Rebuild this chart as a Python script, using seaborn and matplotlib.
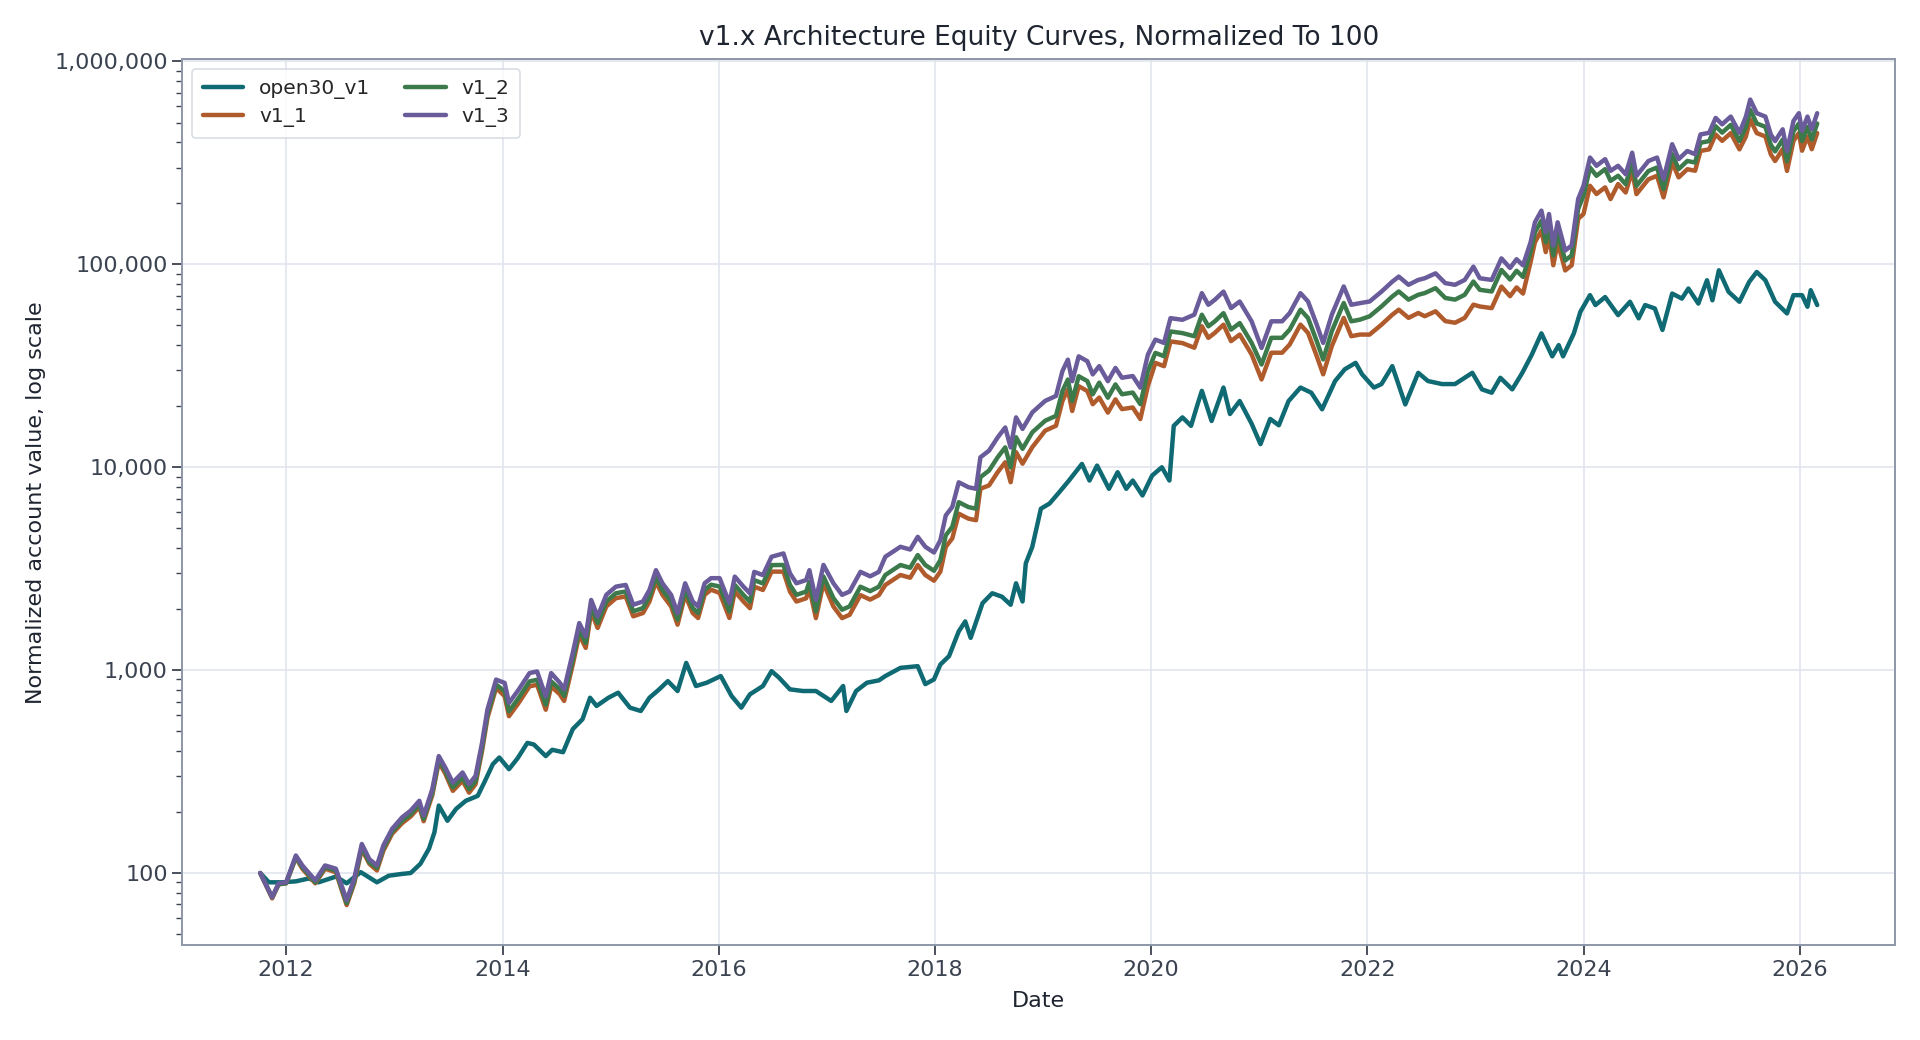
import pandas as pd
import numpy as np
import matplotlib
matplotlib.use('Agg')
import matplotlib.pyplot as plt
import matplotlib.dates as mdates
from matplotlib.ticker import FuncFormatter, LogLocator, NullFormatter
import seaborn as sns

# 값은 그림에서 읽은 추정치 (연도 소수 표기)
v1_years = [
    2011.76, 2011.87, 2011.93, 2012.00, 2012.09, 2012.15, 2012.27, 2012.36, 2012.46, 2012.56,
    2012.63, 2012.70, 2012.77, 2012.84, 2012.90, 2012.98, 2013.07, 2013.15, 2013.23, 2013.27,
    2013.35, 2013.41, 2013.47, 2013.54, 2013.63, 2013.69, 2013.75, 2013.81, 2013.86, 2013.94,
    2014.02, 2014.06, 2014.15, 2014.25, 2014.32, 2014.40, 2014.45, 2014.53, 2014.57, 2014.65,
    2014.71, 2014.77, 2014.82, 2014.88, 2014.96, 2015.05, 2015.14, 2015.21, 2015.30, 2015.36,
    2015.42, 2015.48, 2015.56, 2015.62, 2015.69, 2015.76, 2015.81, 2015.87, 2015.93, 2016.01,
    2016.10, 2016.15, 2016.23, 2016.29, 2016.33, 2016.41, 2016.49, 2016.60, 2016.66, 2016.72,
    2016.81, 2016.84, 2016.90, 2016.97, 2017.06, 2017.14, 2017.21, 2017.31, 2017.40, 2017.48,
    2017.54, 2017.68, 2017.77, 2017.84, 2017.91, 2017.99, 2018.05, 2018.10, 2018.16, 2018.22,
    2018.31, 2018.38, 2018.42, 2018.50, 2018.58, 2018.65, 2018.70, 2018.75, 2018.81, 2018.90,
    2019.02, 2019.12, 2019.18, 2019.23, 2019.27, 2019.33, 2019.41, 2019.46, 2019.52, 2019.60,
    2019.67, 2019.73, 2019.83, 2019.90, 2019.97, 2020.04, 2020.12, 2020.18, 2020.29, 2020.40,
    2020.47, 2020.53, 2020.59, 2020.67, 2020.74, 2020.82, 2020.93, 2021.02, 2021.11, 2021.21,
    2021.28, 2021.38, 2021.45, 2021.53, 2021.59, 2021.67, 2021.78, 2021.85, 2021.93, 2022.02,
    2022.13, 2022.23, 2022.29, 2022.38, 2022.47, 2022.53, 2022.63, 2022.72, 2022.81, 2022.90,
    2022.98, 2023.04, 2023.15, 2023.24, 2023.32, 2023.38, 2023.44, 2023.51, 2023.55, 2023.61,
    2023.65, 2023.68, 2023.72, 2023.76, 2023.83, 2023.89, 2023.95, 2024.00, 2024.06, 2024.12,
    2024.20, 2024.25, 2024.32, 2024.39, 2024.45, 2024.49, 2024.60, 2024.68, 2024.74, 2024.82,
    2024.88, 2024.96, 2025.03, 2025.08, 2025.16, 2025.22, 2025.28, 2025.36, 2025.44, 2025.50,
    2025.54, 2025.60, 2025.68, 2025.73, 2025.77, 2025.84, 2025.88, 2025.94, 2025.99, 2026.02,
    2026.07, 2026.11, 2026.16,
]

v1_3 = [
    100, 76, 89, 90, 122, 109, 92, 109, 105, 73.5,
    94, 139, 117, 109, 137, 165, 188, 203, 227, 192,
    259, 377, 331, 279, 313, 274, 301, 438, 639, 898,
    865, 689, 802, 967, 985, 742, 967, 867, 804, 1216,
    1706, 1468, 2218, 1840, 2350, 2580, 2630, 2100, 2180, 2485,
    3110, 2680, 2350, 1910, 2680, 2180, 2060, 2680, 2840, 2840,
    2140, 2890, 2580, 2390, 3050, 2940, 3620, 3760, 3000, 2680,
    2780, 3110, 2220, 3300, 2680, 2350, 2440, 3050, 2900, 3050,
    3620, 4055, 3930, 4540, 4055, 3800, 4370, 5790, 6370, 8430,
    7970, 7830, 11190, 12070, 14030, 15700, 12520, 17610, 15450, 18630,
    21240, 22460, 29800, 33910, 26560, 35200, 33310, 28690, 31500, 26560,
    30870, 27620, 28150, 24680, 35900, 42570, 41000, 54300, 53300, 56500,
    72100, 63200, 66900, 73400, 60900, 65600, 52400, 38700, 52400, 52400,
    57500, 72100, 65600, 50500, 41000, 56500, 77800, 63200, 64400, 65600,
    73400, 82200, 87000, 79300, 83800, 85400, 90300, 80800, 79300, 83800,
    97400, 85400, 83800, 107000, 96000, 106000, 98900, 128700, 161200, 184000,
    144000, 177000, 124000, 161200, 117000, 124000, 210000, 244000, 336000, 306000,
    330000, 289000, 306000, 278000, 355000, 273000, 323000, 336000, 263000, 391000,
    330000, 362000, 349000, 437000, 445000, 527000, 490000, 535000, 445000, 535000,
    649000, 556000, 535000, 437000, 405000, 463000, 362000, 509000, 556000, 455000,
    535000, 463000, 556000,
]

v1_2 = [
    100, 76, 88, 89, 120, 107, 90, 107, 103, 71,
    91, 135, 113, 106, 133, 160, 181, 195, 219, 185,
    249, 363, 319, 264, 296, 259, 284, 414, 604, 849,
    787, 627, 730, 880, 896, 675, 880, 805, 746, 1128,
    1583, 1362, 2058, 1708, 2181, 2394, 2441, 1949, 2023, 2306,
    2886, 2487, 2181, 1772, 2487, 2023, 1912, 2487, 2636, 2584,
    1947, 2630, 2348, 2175, 2776, 2675, 3294, 3298, 2631, 2350,
    2438, 2727, 1947, 2894, 2265, 1986, 2062, 2577, 2451, 2577,
    2943, 3297, 3195, 3691, 3297, 3089, 3487, 4620, 5083, 6727,
    6360, 6248, 8930, 9632, 11196, 12529, 9991, 14053, 12329, 14867,
    16950, 17923, 23780, 27060, 21195, 28090, 26581, 22895, 26114, 22018,
    25591, 22897, 23336, 20460, 29761, 36610, 35260, 46698, 45838, 44240,
    56454, 49486, 52383, 57472, 47685, 51365, 41029, 32082, 43440, 43440,
    47668, 59771, 54382, 41865, 33989, 46839, 64496, 52393, 53388, 55432,
    62023, 69459, 73515, 67009, 70811, 72163, 76304, 68276, 67009, 70811,
    82303, 74896, 73493, 93839, 84192, 92962, 86735, 114929, 143952, 164312,
    128592, 158061, 110732, 143952, 104481, 110732, 187530, 217892, 300048, 273258,
    294690, 258077, 273258, 248254, 317015, 243789, 288439, 300048, 234859, 349163,
    294690, 323266, 317590, 397670, 404950, 479570, 445900, 486850, 404950, 476150,
    577610, 494840, 476150, 388930, 360450, 412070, 322180, 453010, 494840, 404950,
    476150, 412070, 494840,
]

v1_1 = [
    100, 75, 88, 89, 119, 105, 89, 105, 101, 69.5,
    89, 131, 111, 103, 129, 156, 176, 190, 212, 180,
    242, 352, 309, 254, 285, 249, 274, 399, 581, 817,
    744, 593, 690, 832, 847, 638, 832, 760, 705, 1066,
    1496, 1287, 1945, 1614, 2061, 2263, 2307, 1842, 1912, 2179,
    2727, 2350, 2061, 1675, 2350, 1912, 1807, 2350, 2491, 2400,
    1808, 2442, 2180, 2020, 2577, 2484, 3059, 3057, 2439, 2179,
    2260, 2528, 1805, 2683, 2058, 1805, 1874, 2342, 2227, 2342,
    2628, 2944, 2853, 3296, 2944, 2759, 3059, 4053, 4459, 5901,
    5579, 5481, 7833, 8135, 9456, 10582, 8438, 11869, 10413, 12557,
    15144, 16014, 21247, 24178, 18937, 25098, 23750, 20456, 22050, 18592,
    21609, 19334, 19705, 17276, 25130, 32694, 31488, 41702, 40934, 38816,
    49533, 43418, 45960, 50426, 41838, 45067, 35999, 27090, 36680, 36680,
    40250, 50470, 45920, 35350, 28700, 39550, 54460, 44240, 45080, 45067,
    50426, 56471, 59769, 54479, 57571, 55510, 58695, 52520, 51545, 54470,
    63310, 62000, 60839, 77682, 69696, 76956, 71801, 102703, 128638, 146832,
    114912, 141246, 98952, 128638, 93366, 98952, 167580, 177144, 243936, 222156,
    239580, 209814, 248778, 226014, 288615, 221949, 262599, 273168, 213819, 317883,
    268290, 294306, 289321, 362273, 368905, 436883, 406210, 443515, 368905, 426930,
    517902, 443688, 426930, 348726, 323190, 369474, 288876, 406182, 443688, 363090,
    426930, 369474, 443688,
]

open30_years = [
    2011.76, 2011.84, 2011.96, 2012.09, 2012.21, 2012.30, 2012.46, 2012.56, 2012.69, 2012.84,
    2012.95, 2013.07, 2013.15, 2013.24, 2013.32, 2013.37, 2013.41, 2013.49, 2013.57, 2013.66,
    2013.77, 2013.83, 2013.91, 2013.97, 2014.06, 2014.14, 2014.23, 2014.29, 2014.40, 2014.46,
    2014.56, 2014.65, 2014.74, 2014.81, 2014.87, 2014.98, 2015.07, 2015.18, 2015.28, 2015.36,
    2015.45, 2015.53, 2015.62, 2015.70, 2015.79, 2015.89, 2016.02, 2016.12, 2016.21, 2016.29,
    2016.41, 2016.49, 2016.56, 2016.66, 2016.78, 2016.90, 2017.04, 2017.15, 2017.18, 2017.27,
    2017.37, 2017.48, 2017.54, 2017.68, 2017.84, 2017.91, 2017.99, 2018.05, 2018.13, 2018.22,
    2018.28, 2018.33, 2018.44, 2018.53, 2018.62, 2018.70, 2018.75, 2018.81, 2018.84, 2018.90,
    2018.98, 2019.06, 2019.15, 2019.24, 2019.36, 2019.43, 2019.50, 2019.61, 2019.69, 2019.77,
    2019.83, 2019.92, 2020.01, 2020.10, 2020.17, 2020.21, 2020.29, 2020.37, 2020.43, 2020.47,
    2020.56, 2020.67, 2020.73, 2020.82, 2020.93, 2021.01, 2021.10, 2021.18, 2021.27, 2021.38,
    2021.48, 2021.58, 2021.70, 2021.79, 2021.89, 2021.95, 2022.06, 2022.13, 2022.23, 2022.35,
    2022.47, 2022.56, 2022.69, 2022.81, 2022.97, 2023.06, 2023.15, 2023.23, 2023.34, 2023.43,
    2023.52, 2023.61, 2023.71, 2023.77, 2023.81, 2023.91, 2023.97, 2024.06, 2024.11, 2024.20,
    2024.32, 2024.43, 2024.51, 2024.57, 2024.66, 2024.73, 2024.82, 2024.91, 2024.97, 2025.06,
    2025.14, 2025.19, 2025.25, 2025.34, 2025.44, 2025.53, 2025.60, 2025.68, 2025.77, 2025.88,
    2025.94, 2026.02, 2026.07, 2026.10, 2026.16,
]

open30_v1 = [
    100, 90, 90, 91, 94, 90, 96, 89, 101, 90,
    97, 99, 100, 111, 132, 159, 215, 181, 207, 227,
    240, 279, 344, 371, 325, 368, 438, 430, 377, 405,
    394, 512, 573, 731, 666, 731, 774, 653, 629, 731,
    804, 883, 789, 1086, 835, 867, 935, 746, 653, 760,
    835, 989, 917, 804, 789, 789, 705, 835, 629, 789,
    867, 890, 935, 1026, 1046, 853, 900, 1066, 1172, 1553,
    1738, 1442, 2139, 2393, 2300, 2100, 2680, 2180, 3360, 4050,
    6250, 6620, 7530, 8600, 10380, 8600, 10190, 7830, 9450, 7830,
    8600, 7260, 9100, 10000, 8600, 16000, 17610, 16000, 20400, 23800,
    16900, 24700, 18300, 21200, 16400, 13000, 17300, 16100, 21200, 24700,
    23300, 19300, 26600, 30400, 32700, 28700, 24700, 25700, 31500, 20400,
    29200, 26600, 25700, 25700, 29200, 24200, 23300, 27600, 24200, 29000,
    35800, 45700, 35200, 40000, 35200, 45700, 58300, 70500, 63000, 69000,
    56200, 65400, 54200, 63000, 60600, 47500, 71800, 67800, 76000, 64100,
    83500, 66500, 93500, 73200, 65400, 81900, 91700, 83500, 65400, 57300,
    70500, 70500, 61800, 74600, 63000,
]

series_names = ['open30_v1', 'v1_1', 'v1_2', 'v1_3']
series_colors = ['#0f6a73', '#b05b2c', '#3c7a4b', '#6a5c9b']


def to_date(years):
    years = np.asarray(years)
    base = pd.to_datetime(years.astype(int).astype(str), format='%Y')
    return base + pd.to_timedelta((years - years.astype(int)) * 365.25, unit='D')


sns.set_theme(style='ticks')
plt.rcParams['font.family'] = ['DejaVu Sans']

fig = plt.figure(figsize=(19.2, 10.4), dpi=100)
ax = fig.add_axes([0.095, 0.091, 0.892, 0.852])

series = [
    (to_date(open30_years), open30_v1),
    (to_date(v1_years), v1_1),
    (to_date(v1_years), v1_2),
    (to_date(v1_years), v1_3),
]
for (x, y), name, col in zip(series, series_names, series_colors):
    sns.lineplot(x=x, y=y, ax=ax, label=name, color=col, linewidth=3.2)

ax.set_yscale('log')
ax.yaxis.set_major_locator(LogLocator(base=10))
ax.yaxis.set_major_formatter(FuncFormatter(lambda v, p: '{:,.0f}'.format(v)))
ax.yaxis.set_minor_formatter(NullFormatter())
ax.xaxis.set_major_locator(mdates.YearLocator(2))
ax.xaxis.set_major_formatter(mdates.DateFormatter('%Y'))

ax.grid(True, which='major', color='#dfe3ec', linewidth=1.1)
ax.set_axisbelow(True)
for s in ax.spines.values():
    s.set_color('#8d97a8')
    s.set_linewidth(1.4)
ax.tick_params(axis='both', which='major', labelsize=16, colors='#3b4351', length=7, width=1.3)
ax.tick_params(axis='y', which='minor', length=4, width=1.0, colors='#3b4351')

ax.set_title('v1.x Architecture Equity Curves, Normalized To 100', fontsize=19, color='#1f2530', pad=10)
ax.set_xlabel('Date', fontsize=16, color='#1f2530', labelpad=8)
ax.set_ylabel('Normalized account value, log scale', fontsize=16, color='#1f2530', labelpad=6)

leg = ax.legend(loc='upper left', ncol=2, fontsize=14.5, frameon=True, handlelength=2.0,
                columnspacing=1.75, borderpad=0.5, labelspacing=0.4)
leg.get_frame().set_edgecolor('#cfd4dc')
leg.get_frame().set_linewidth(1.2)
for line in leg.get_lines():
    line.set_linewidth(3.2)

fig.savefig('out.png', dpi=100)
